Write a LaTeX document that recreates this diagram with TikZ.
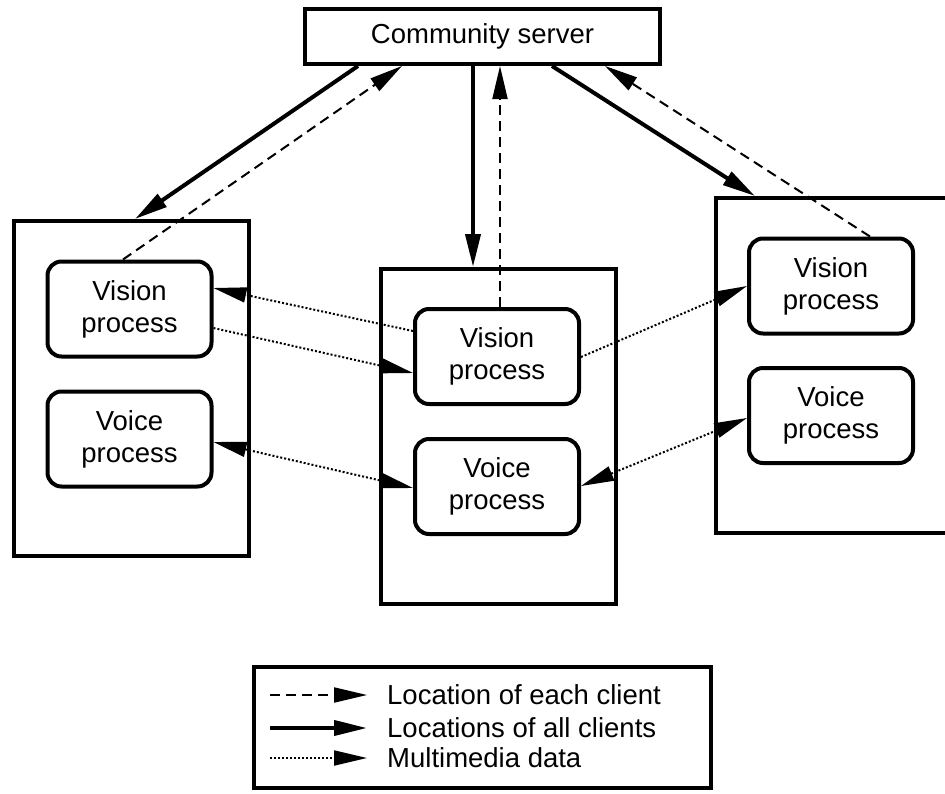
\documentclass[tikz,border=0pt]{standalone}
\usepackage{fontspec}
\setmainfont{Liberation Sans}
\usetikzlibrary{arrows.meta,calc}
\begin{document}
\begin{tikzpicture}[x=1pt,y=-1pt,
  every node/.style={font=\fontsize{27.5}{32}\selectfont},
  server/.style={draw,line width=4pt,minimum width=355pt,minimum height=55pt,inner sep=0pt},
  client/.style={draw,line width=4pt,minimum width=235pt,minimum height=335pt,inner sep=0pt},
  proc/.style={draw,line width=4pt,rounded corners=14pt,minimum width=164pt,minimum height=95pt,inner sep=0pt,align=center},
  tip/.style={-{Triangle[length=33pt,width=15pt]}},
  alltips/.style={{Triangle[length=33pt,width=15pt]}-{Triangle[length=33pt,width=15pt]}},
  thickline/.style={line width=4pt},
  dashline/.style={line width=2pt,dash pattern=on 10pt off 6pt},
  dotline/.style={line width=2pt,dash pattern=on 2pt off 2pt},
  legtext/.style={anchor=west,inner sep=0pt}
]
\useasboundingbox (0,0) rectangle (945,793);

% server
\node[server] (server) at (482.5,36.5) {Community server};

% clients
\node[client] (lbox) at (131.5,388.5) {};
\node[client] (mbox) at (498.5,436.5) {};
\node[client] (rbox) at (833.5,365.5) {};

% processes
\node[proc] (lvis) at (129.5,309) {Vision\\process};
\node[proc] (lvoi) at (129.5,439) {Voice\\process};
\node[proc] (mvis) at (497,356.5) {Vision\\process};
\node[proc] (mvoi) at (497,486.5) {Voice\\process};
\node[proc] (rvis) at (831,286) {Vision\\process};
\node[proc] (rvoi) at (831,415.5) {Voice\\process};

% server links
\draw[tip,thickline] ($(server.south)+(-124.5,0)$) -- ($(lbox.north)+(3.5,0)$);
\draw[tip,dashline] ($(lvis.north)+(-6.5,0)$) -- ($(server.south)+(-80.5,0)$);
\draw[tip,thickline] ($(server.south)+(-9.5,0)$) -- ($(mbox.north)+(-25.5,0)$);
\draw[tip,dashline] ($(mvis.north)+(3,0)$) -- ($(server.south)+(17.5,0)$);
\draw[tip,thickline] ($(server.south)+(69.5,0)$) -- ($(rbox.north)+(-78.5,0)$);
\draw[tip,dashline] ($(rvis.north)+(39,0)$) -- ($(server.south)+(122.5,0)$);

% multimedia links
\draw[tip,dotline] ($(mvis.west)+(0,-25.5)$) -- ($(lvis.east)+(0,-21)$);
\draw[tip,dotline] ($(lvis.east)+(0,19)$) -- ($(mvis.west)+(0,16.5)$);
\draw[alltips,dotline] ($(lvoi.east)+(0,3)$) -- ($(mvoi.west)+(0,1.5)$);
\draw[tip,dotline] ($(mvis.east)+(0,0.5)$) -- (rvis.west);
\draw[alltips,dotline] ($(mvoi.east)+(0,-0.5)$) -- ($(rvoi.west)+(0,2.5)$);

% legend
\node[draw,line width=4pt,minimum width=457pt,minimum height=121pt,inner sep=0pt] (legend) at (482.5,727.5) {};
\node[legtext] (t1) at (387,695) {Location of each client};
\node[legtext] (t2) at (387,728) {Locations of all clients};
\node[legtext] (t3) at (387,758) {Multimedia data};
\coordinate (s1) at (270,695);
\coordinate (s2) at (270,728);
\coordinate (s3) at (270,758);
\draw[tip,dashline] (s1) -- ([xshift=-20pt]t1.west);
\draw[tip,thickline] (s2) -- ([xshift=-20pt]t2.west);
\draw[tip,dotline] (s3) -- ([xshift=-20pt]t3.west);
\end{tikzpicture}
\end{document}
